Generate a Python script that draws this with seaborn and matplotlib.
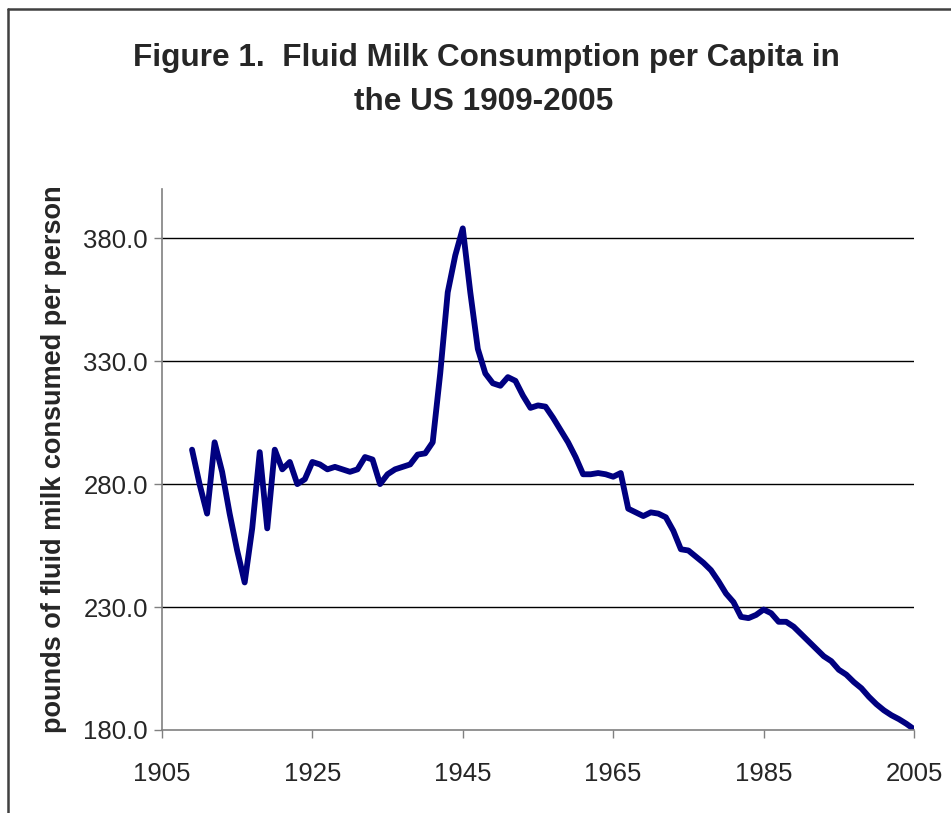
import pandas as pd
import matplotlib
matplotlib.use("Agg")
import matplotlib.pyplot as plt
import seaborn as sns
from matplotlib.lines import Line2D

years = list(range(1909, 2006))
pounds = [
    294, 280, 268, 297, 285, 268, 253, 240, 262, 293,   # 1909-1918
    262, 294, 286, 289, 280, 282, 289, 288, 286, 287,   # 1919-1928
    286, 285, 286, 291, 290, 280, 284, 286, 287, 288,   # 1929-1938
    292, 292.5, 297, 325, 358, 373, 384, 358, 335, 325, # 1939-1948
    321, 320, 323.5, 322, 316, 311, 312, 311.5, 307, 302,  # 1949-1958
    297, 291, 284, 284, 284.5, 284, 283, 284.5, 270, 268.5,  # 1959-1968
    267, 268.5, 268, 266.5, 261, 253.5, 253, 250.5, 248, 245,  # 1969-1978
    240.5, 235.5, 232, 226, 225.5, 226.8, 229, 227.5, 224, 224,  # 1979-1988
    222, 219, 216, 213, 210, 208, 204.5, 202.5, 199.5, 197,  # 1989-1998
    193.5, 190.5, 188, 186, 184.4, 182.5, 180.3,  # 1999-2005
]
x_ticks = [1905, 1925, 1945, 1965, 1985, 2005]
y_ticks = [180, 230, 280, 330, 380]

df = pd.DataFrame({'year': years, 'pounds': pounds})

sns.set_style('white')
plt.rcParams['font.family'] = ['Liberation Sans', 'DejaVu Sans']

fig = plt.figure(figsize=(9.51, 8.13), dpi=100)
ax = fig.add_axes([0.1703, 0.1021, 0.7908, 0.6654])

sns.lineplot(ax=ax, data=df, x='year', y='pounds', color='#000080', linewidth=4.2,
             solid_joinstyle='round', solid_capstyle='round')

ax.set_xlim(1905, 2005)
ax.set_ylim(180, 400)
ax.set_xticks(x_ticks)
ax.set_yticks(y_ticks)
ax.set_yticklabels([f'{v:.1f}' for v in y_ticks])
ax.tick_params(labelsize=18.5, direction='out', length=6, width=1, color='#808080',
               bottom=True, left=True, pad=4)
ax.tick_params(axis='x', pad=17)

for gy in y_ticks[1:]:
    ax.axhline(gy, color='black', linewidth=1, zorder=0)

for side in ['top', 'right']:
    ax.spines[side].set_visible(False)
for side in ['left', 'bottom']:
    ax.spines[side].set_color('#808080')
    ax.spines[side].set_linewidth(1.2)

ax.set_xlabel('')
ax.set_ylabel('pounds of fluid milk consumed per person', fontsize=19.5, fontweight='bold')
ax.yaxis.set_label_coords(-0.126, 0.5)

fig.text(0.511, 0.929, 'Figure 1.  Fluid Milk Consumption per Capita in',
         ha='center', va='center', fontsize=22.7, fontweight='bold')
fig.text(0.509, 0.875, 'the US 1909-2005',
         ha='center', va='center', fontsize=22.7, fontweight='bold')

# chart frame (top and left edges visible)
fig.add_artist(Line2D([8/951, 1], [1 - 9/813, 1 - 9/813], color='#404040', linewidth=1.8,
                      transform=fig.transFigure))
fig.add_artist(Line2D([8/951, 8/951], [0, 1 - 9/813], color='#404040', linewidth=1.8,
                      transform=fig.transFigure))

fig.savefig('out.png', dpi=100)
